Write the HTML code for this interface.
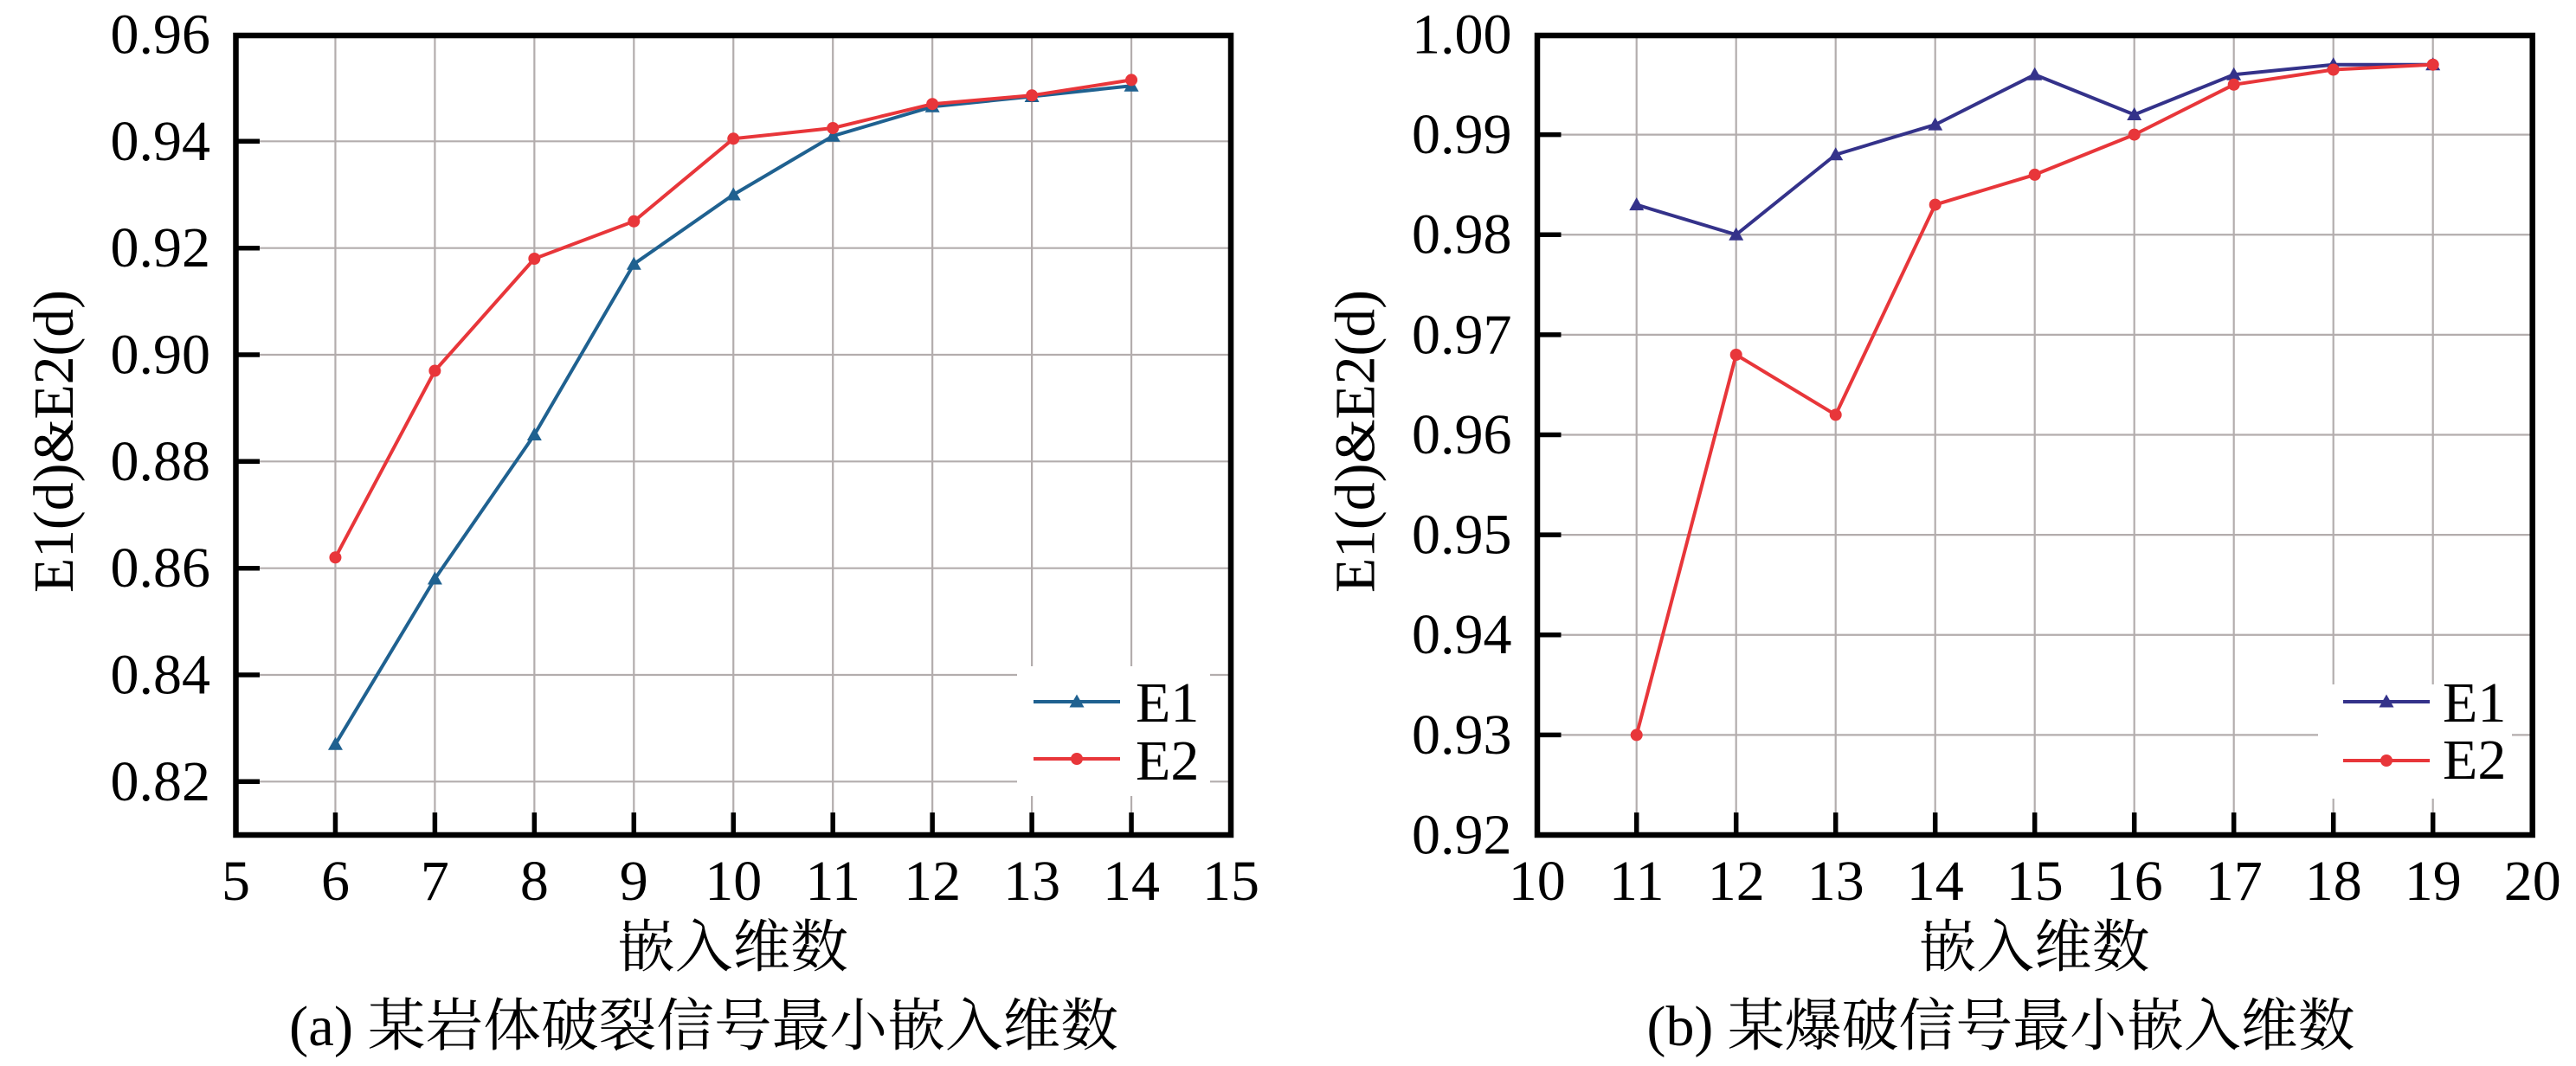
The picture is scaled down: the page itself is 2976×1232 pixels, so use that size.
<!DOCTYPE html>
<html>
<head>
<meta charset="utf-8">
<style>
html,body{margin:0;padding:0;background:#fff;}
svg{display:block;}
.tk{font-family:"Liberation Serif","DejaVu Serif",serif;font-size:66px;fill:#000;}
.cj{font-family:"Liberation Serif","Noto Serif CJK SC","Noto Sans CJK SC",serif;font-size:66px;fill:#000;}
</style>
</head>
<body>
<svg width="2976" height="1232" viewBox="0 0 2976 1232" xmlns="http://www.w3.org/2000/svg">
<defs>
  <marker id="triL" viewBox="-10 -10 20 20" markerWidth="20" markerHeight="20" refX="0" refY="0" markerUnits="userSpaceOnUse" orient="0">
    <path d="M0,-8.5 L8.5,6.5 L-8.5,6.5Z" fill="#1f6190"/>
  </marker>
  <marker id="triR" viewBox="-10 -10 20 20" markerWidth="20" markerHeight="20" refX="0" refY="0" markerUnits="userSpaceOnUse" orient="0">
    <path d="M0,-8.5 L8.5,6.5 L-8.5,6.5Z" fill="#34328a"/>
  </marker>
  <marker id="dot" viewBox="-10 -10 20 20" markerWidth="20" markerHeight="20" refX="0" refY="0" markerUnits="userSpaceOnUse" orient="0">
    <circle cx="0" cy="0" r="7" fill="#e8363a"/>
  </marker>
</defs>
<rect x="0" y="0" width="2976" height="1232" fill="#fff"/>

<!-- ================= LEFT PANEL ================= -->
<g stroke="#b3adad" stroke-width="2.2" fill="none">
  <line x1="387.45" y1="41" x2="387.45" y2="965"/>
  <line x1="502.4" y1="41" x2="502.4" y2="965"/>
  <line x1="617.35" y1="41" x2="617.35" y2="965"/>
  <line x1="732.3" y1="41" x2="732.3" y2="965"/>
  <line x1="847.25" y1="41" x2="847.25" y2="965"/>
  <line x1="962.2" y1="41" x2="962.2" y2="965"/>
  <line x1="1077.15" y1="41" x2="1077.15" y2="965"/>
  <line x1="1192.1" y1="41" x2="1192.1" y2="965"/>
  <line x1="1307.05" y1="41" x2="1307.05" y2="965"/>
  <line x1="272.5" y1="903.3" x2="1422" y2="903.3"/>
  <line x1="272.5" y1="780" x2="1422" y2="780"/>
  <line x1="272.5" y1="656.7" x2="1422" y2="656.7"/>
  <line x1="272.5" y1="533.3" x2="1422" y2="533.3"/>
  <line x1="272.5" y1="410" x2="1422" y2="410"/>
  <line x1="272.5" y1="286.7" x2="1422" y2="286.7"/>
  <line x1="272.5" y1="163.3" x2="1422" y2="163.3"/>
</g>
<!-- data -->
<polyline fill="none" stroke="#1f6190" stroke-width="4" stroke-linejoin="round"
  marker-start="url(#triL)" marker-mid="url(#triL)" marker-end="url(#triL)"
  points="387.45,860.2 502.4,669 617.35,502.5 732.3,305.2 847.25,225 962.2,157.2 1077.15,123.3 1192.1,111.5 1307.05,99.2"/>
<polyline fill="none" stroke="#e8363a" stroke-width="4" stroke-linejoin="round"
  marker-start="url(#dot)" marker-mid="url(#dot)" marker-end="url(#dot)"
  points="387.45,644.3 502.4,428.5 617.35,299 732.3,255.8 847.25,160.3 962.2,148 1077.15,120.2 1192.1,110.3 1307.05,92.4"/>
<!-- legend -->
<rect x="1175" y="770" width="223" height="150" rx="5" fill="#fff"/>
<line x1="1194" y1="811" x2="1294" y2="811" stroke="#1f6190" stroke-width="4"/>
<path d="M1244,802.5 L1252.5,817.5 L1235.5,817.5Z" fill="#1f6190"/>
<line x1="1194" y1="877" x2="1294" y2="877" stroke="#e8363a" stroke-width="4"/>
<circle cx="1244" cy="877" r="7" fill="#e8363a"/>
<text class="tk" x="1312" y="834">E1</text>
<text class="tk" x="1312" y="901">E2</text>
<!-- frame -->
<rect x="272.5" y="41" width="1149.5" height="924" fill="none" stroke="#000" stroke-width="6.5"/>
<g stroke="#000" stroke-width="5.5">
  <line x1="272.5" y1="903.3" x2="300" y2="903.3"/>
  <line x1="272.5" y1="780" x2="300" y2="780"/>
  <line x1="272.5" y1="656.7" x2="300" y2="656.7"/>
  <line x1="272.5" y1="533.3" x2="300" y2="533.3"/>
  <line x1="272.5" y1="410" x2="300" y2="410"/>
  <line x1="272.5" y1="286.7" x2="300" y2="286.7"/>
  <line x1="272.5" y1="163.3" x2="300" y2="163.3"/>
  <line x1="387.45" y1="965" x2="387.45" y2="939"/>
  <line x1="502.4" y1="965" x2="502.4" y2="939"/>
  <line x1="617.35" y1="965" x2="617.35" y2="939"/>
  <line x1="732.3" y1="965" x2="732.3" y2="939"/>
  <line x1="847.25" y1="965" x2="847.25" y2="939"/>
  <line x1="962.2" y1="965" x2="962.2" y2="939"/>
  <line x1="1077.15" y1="965" x2="1077.15" y2="939"/>
  <line x1="1192.1" y1="965" x2="1192.1" y2="939"/>
  <line x1="1307.05" y1="965" x2="1307.05" y2="939"/>
</g>
<!-- y tick labels -->
<g class="tk" text-anchor="end">
  <text x="243" y="924.8">0.82</text>
  <text x="243" y="801.5">0.84</text>
  <text x="243" y="678.2">0.86</text>
  <text x="243" y="554.8">0.88</text>
  <text x="243" y="431.5">0.90</text>
  <text x="243" y="308.2">0.92</text>
  <text x="243" y="184.8">0.94</text>
  <text x="243" y="61.5">0.96</text>
</g>
<!-- x tick labels -->
<g class="tk" text-anchor="middle">
  <text x="272.5" y="1040">5</text>
  <text x="387.45" y="1040">6</text>
  <text x="502.4" y="1040">7</text>
  <text x="617.35" y="1040">8</text>
  <text x="732.3" y="1040">9</text>
  <text x="847.25" y="1040">10</text>
  <text x="962.2" y="1040">11</text>
  <text x="1077.15" y="1040">12</text>
  <text x="1192.1" y="1040">13</text>
  <text x="1307.05" y="1040">14</text>
  <text x="1422" y="1040">15</text>
</g>
<text class="tk" transform="translate(84,510) rotate(-90)" text-anchor="middle" textLength="350" lengthAdjust="spacingAndGlyphs">E1(d)&amp;E2(d)</text>
<text class="cj" x="846.5" y="1117" text-anchor="middle" textLength="267" lengthAdjust="spacingAndGlyphs">嵌入维数</text>
<text class="cj" x="334" y="1208" textLength="958" lengthAdjust="spacingAndGlyphs">(a) 某岩体破裂信号最小嵌入维数</text>

<!-- ================= RIGHT PANEL ================= -->
<g stroke="#b3adad" stroke-width="2.2" fill="none">
  <line x1="1890.7" y1="41" x2="1890.7" y2="965"/>
  <line x1="2005.7" y1="41" x2="2005.7" y2="965"/>
  <line x1="2120.7" y1="41" x2="2120.7" y2="965"/>
  <line x1="2235.7" y1="41" x2="2235.7" y2="965"/>
  <line x1="2350.7" y1="41" x2="2350.7" y2="965"/>
  <line x1="2465.7" y1="41" x2="2465.7" y2="965"/>
  <line x1="2580.7" y1="41" x2="2580.7" y2="965"/>
  <line x1="2695.7" y1="41" x2="2695.7" y2="965"/>
  <line x1="2810.7" y1="41" x2="2810.7" y2="965"/>
  <line x1="1776" y1="849.4" x2="2925.7" y2="849.4"/>
  <line x1="1776" y1="733.75" x2="2925.7" y2="733.75"/>
  <line x1="1776" y1="618.1" x2="2925.7" y2="618.1"/>
  <line x1="1776" y1="502.5" x2="2925.7" y2="502.5"/>
  <line x1="1776" y1="386.9" x2="2925.7" y2="386.9"/>
  <line x1="1776" y1="271.25" x2="2925.7" y2="271.25"/>
  <line x1="1776" y1="155.6" x2="2925.7" y2="155.6"/>
</g>
<polyline fill="none" stroke="#34328a" stroke-width="4" stroke-linejoin="round"
  marker-start="url(#triR)" marker-mid="url(#triR)" marker-end="url(#triR)"
  points="1890.7,236.6 2005.7,271.25 2120.7,178.75 2235.7,144.1 2350.7,86.25 2465.7,132.5 2580.7,86.25 2695.7,74.7 2810.7,74.7"/>
<polyline fill="none" stroke="#e8363a" stroke-width="4" stroke-linejoin="round"
  marker-start="url(#dot)" marker-mid="url(#dot)" marker-end="url(#dot)"
  points="1890.7,849.4 2005.7,410 2120.7,479.4 2235.7,236.6 2350.7,201.9 2465.7,155.6 2580.7,97.8 2695.7,80.5 2810.7,74.7"/>
<!-- legend -->
<rect x="2678" y="791" width="224" height="132" rx="5" fill="#fff"/>
<line x1="2707" y1="811" x2="2807" y2="811" stroke="#34328a" stroke-width="4"/>
<path d="M2757,802.5 L2765.5,817.5 L2748.5,817.5Z" fill="#34328a"/>
<line x1="2707" y1="879" x2="2807" y2="879" stroke="#e8363a" stroke-width="4"/>
<circle cx="2757" cy="879" r="7" fill="#e8363a"/>
<text class="tk" x="2822" y="834">E1</text>
<text class="tk" x="2822" y="900">E2</text>
<!-- frame -->
<rect x="1776" y="41" width="1149.7" height="924" fill="none" stroke="#000" stroke-width="6.5"/>
<g stroke="#000" stroke-width="5.5">
  <line x1="1776" y1="849.4" x2="1803.5" y2="849.4"/>
  <line x1="1776" y1="733.75" x2="1803.5" y2="733.75"/>
  <line x1="1776" y1="618.1" x2="1803.5" y2="618.1"/>
  <line x1="1776" y1="502.5" x2="1803.5" y2="502.5"/>
  <line x1="1776" y1="386.9" x2="1803.5" y2="386.9"/>
  <line x1="1776" y1="271.25" x2="1803.5" y2="271.25"/>
  <line x1="1776" y1="155.6" x2="1803.5" y2="155.6"/>
  <line x1="1890.7" y1="965" x2="1890.7" y2="939"/>
  <line x1="2005.7" y1="965" x2="2005.7" y2="939"/>
  <line x1="2120.7" y1="965" x2="2120.7" y2="939"/>
  <line x1="2235.7" y1="965" x2="2235.7" y2="939"/>
  <line x1="2350.7" y1="965" x2="2350.7" y2="939"/>
  <line x1="2465.7" y1="965" x2="2465.7" y2="939"/>
  <line x1="2580.7" y1="965" x2="2580.7" y2="939"/>
  <line x1="2695.7" y1="965" x2="2695.7" y2="939"/>
  <line x1="2810.7" y1="965" x2="2810.7" y2="939"/>
</g>
<g class="tk" text-anchor="end">
  <text x="1746.5" y="986.5">0.92</text>
  <text x="1746.5" y="870.9">0.93</text>
  <text x="1746.5" y="755.2">0.94</text>
  <text x="1746.5" y="639.6">0.95</text>
  <text x="1746.5" y="524">0.96</text>
  <text x="1746.5" y="408.4">0.97</text>
  <text x="1746.5" y="292.7">0.98</text>
  <text x="1746.5" y="177.1">0.99</text>
  <text x="1746.5" y="61.5">1.00</text>
</g>
<g class="tk" text-anchor="middle">
  <text x="1775.7" y="1040">10</text>
  <text x="1890.7" y="1040">11</text>
  <text x="2005.7" y="1040">12</text>
  <text x="2120.7" y="1040">13</text>
  <text x="2235.7" y="1040">14</text>
  <text x="2350.7" y="1040">15</text>
  <text x="2465.7" y="1040">16</text>
  <text x="2580.7" y="1040">17</text>
  <text x="2695.7" y="1040">18</text>
  <text x="2810.7" y="1040">19</text>
  <text x="2925.7" y="1040">20</text>
</g>
<text class="tk" transform="translate(1587.5,510) rotate(-90)" text-anchor="middle" textLength="350" lengthAdjust="spacingAndGlyphs">E1(d)&amp;E2(d)</text>
<text class="cj" x="2350" y="1117" text-anchor="middle" textLength="267" lengthAdjust="spacingAndGlyphs">嵌入维数</text>
<text class="cj" x="1902.5" y="1208" textLength="818" lengthAdjust="spacingAndGlyphs">(b) 某爆破信号最小嵌入维数</text>
</svg>
</body>
</html>
